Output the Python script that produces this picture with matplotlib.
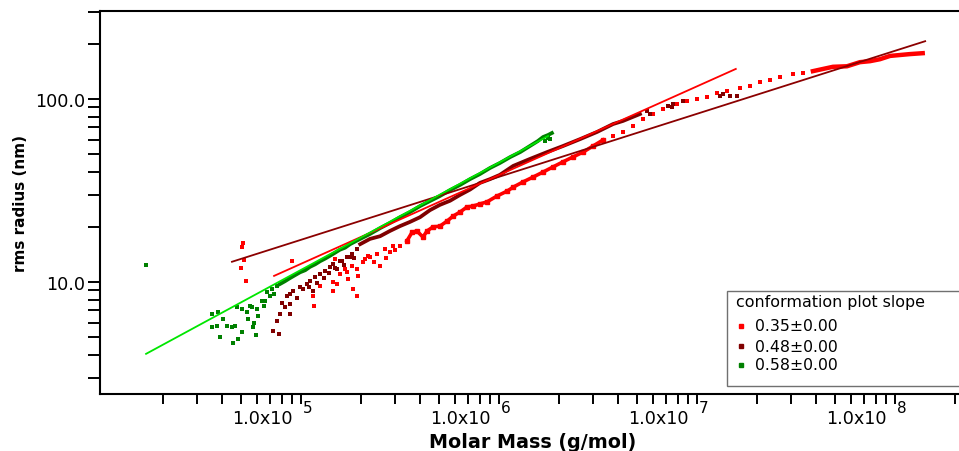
import numpy as np
import matplotlib.pyplot as plt
from matplotlib.patches import Rectangle
from matplotlib.lines import Line2D

# Datos (masa molar en g/mol, radio rms en nm)
red_scatter_mm = [5.09e4, 5.04e4, 5.15e4, 4.98e4, 5.27e4, 9.01e4, 1.16e5, 1.15e5, 1.25e5, 1.45e5,
                  1.45e5, 1.49e5, 1.52e5, 1.57e5, 1.67e5, 1.73e5, 1.71e5, 1.81e5, 1.83e5, 1.92e5,
                  1.92e5, 1.94e5, 2.06e5, 2.10e5, 2.18e5, 2.23e5, 2.35e5, 2.42e5, 2.51e5, 2.66e5,
                  2.70e5, 2.81e5, 2.91e5, 3.00e5, 3.16e5]
red_scatter_rg = [16.3, 15.5, 13.2, 11.9, 10.1, 13.0, 7.39, 8.38, 9.51, 10.0,
                  8.93, 13.4, 9.75, 11.1, 11.8, 10.4, 11.3, 12.2, 9.16, 11.8,
                  8.38, 10.8, 12.9, 13.4, 13.9, 13.7, 12.8, 14.2, 12.2, 15.1,
                  13.6, 14.6, 15.7, 14.9, 15.7]
red_curve_mm = [3.43e5, 3.64e5, 3.85e5, 4.13e5, 4.33e5, 4.64e5, 5.03e5, 5.46e5, 5.86e5, 6.35e5,
                6.89e5, 7.39e5, 8.01e5, 8.69e5, 9.77e5, 1.10e6, 1.18e6, 1.32e6, 1.49e6, 1.67e6,
                1.87e6, 2.10e6, 2.36e6, 2.66e6, 2.98e6, 3.35e6]
red_curve_rg = [16.8, 18.7, 19.0, 17.6, 19.0, 20.0, 20.2, 21.5, 22.9, 24.1,
                25.7, 26.0, 26.7, 27.4, 29.5, 31.4, 33.0, 35.2, 37.5, 39.9,
                42.5, 45.3, 48.2, 51.3, 55.3, 59.7]
red_dots_mm = [3.77e6, 4.23e6, 4.75e6, 5.33e6, 6.00e6, 6.73e6, 7.93e6, 8.90e6, 1.00e7, 1.12e7,
               1.26e7, 1.42e7, 1.65e7, 1.85e7, 2.08e7, 2.34e7, 2.62e7, 3.05e7, 3.43e7]
red_dots_rg = [62.8, 66.1, 71.1, 77.8, 82.8, 88.1, 93.9, 97.5, 100.0, 102.6,
               108, 111, 115, 118, 124, 127, 132, 137, 139]
red_tail_mm = [3.85e7, 4.33e7, 4.86e7, 5.72e7, 6.65e7, 7.48e7, 8.39e7, 9.44e7, 1.06e8, 1.19e8, 1.38e8]
red_tail_rg = [142, 146, 150, 151, 159, 161, 165, 172, 174, 176, 178]

dred_scatter_mm = [7.23e4, 7.74e4, 7.57e4, 7.83e4, 8.02e4, 8.30e4, 8.50e4, 8.79e4, 8.79e4, 8.79e4,
                   9.12e4, 9.50e4, 9.89e4, 1.02e5, 1.07e5, 1.10e5, 1.11e5, 1.15e5, 1.18e5, 1.20e5,
                   1.25e5, 1.30e5, 1.32e5, 1.38e5, 1.40e5, 1.45e5, 1.48e5, 1.52e5, 1.57e5, 1.61e5,
                   1.65e5, 1.71e5, 1.77e5, 1.81e5, 1.85e5, 1.92e5]
dred_scatter_rg = [5.40, 5.20, 6.12, 6.69, 7.67, 7.30, 8.38, 6.69, 7.58, 8.60,
                   8.93, 8.2, 9.39, 9.16, 9.75, 9.4, 10.1, 8.93, 10.6, 9.9,
                   11.1, 10.5, 11.5, 11.2, 12.1, 12.5, 11.9, 11.8, 13.0, 13.0,
                   12.4, 13.7, 13.7, 14.2, 13.6, 15.1]
dred_band_mm = [1.99e5, 2.23e5, 2.51e5, 2.81e5, 3.16e5, 3.55e5, 3.99e5, 4.48e5, 5.03e5, 5.66e5,
                6.35e5, 7.14e5, 8.01e5, 9.01e5, 1.01e6, 1.18e6, 1.43e6, 1.75e6, 2.10e6, 2.57e6,
                3.13e6, 3.77e6, 4.23e6, 5.15e6]
dred_band_rg = [16.1, 17.2, 17.8, 19.0, 20.2, 21.3, 22.6, 24.7, 26.4, 27.8,
                29.9, 32.0, 34.8, 36.5, 38.5, 43.1, 47.0, 51.3, 55.3, 60.4,
                66.1, 73.0, 75.9, 82.8]
dred_dots_mm = [5.58e6, 5.79e6, 7.14e6, 7.57e6, 7.48e6, 8.50e6, 1.31e7, 1.35e7, 1.47e7, 1.59e7]
dred_dots_rg = [86.0, 82.8, 91.6, 94.0, 90.4, 97.5, 104, 106, 104, 104]

green_scatter_mm = [1.65e4, 3.56e4, 3.81e4, 3.56e4, 3.77e4, 3.90e4, 4.04e4, 4.23e4, 4.48e4, 4.54e4,
                    4.64e4, 4.81e4, 4.76e4, 5.04e4, 5.04e4, 5.34e4, 5.40e4, 5.52e4, 5.66e4, 5.73e4,
                    5.80e4, 5.93e4, 6.00e4, 6.07e4, 6.36e4, 6.50e4, 6.58e4, 6.73e4, 6.97e4, 7.14e4,
                    7.31e4, 7.57e4, 1.71e6, 1.81e6, 1.77e6]
green_scatter_rg = [12.4, 6.69, 6.85, 5.68, 5.75, 5.00, 6.28, 5.75, 5.68, 4.64,
                    5.75, 4.88, 7.30, 5.33, 7.12, 6.85, 6.28, 7.39, 7.30, 5.68,
                    5.97, 5.13, 7.12, 6.52, 7.87, 7.39, 7.87, 8.81, 8.38, 9.16,
                    8.60, 9.51, 58.9, 60.4, 61.5]
green_band_mm = [7.83e4, 8.30e4, 8.79e4, 9.33e4, 9.89e4, 1.05e5, 1.11e5, 1.18e5, 1.25e5, 1.32e5,
                 1.40e5, 1.57e5, 1.67e5, 1.77e5, 1.99e5, 2.23e5, 2.51e5, 2.81e5, 3.16e5, 3.55e5,
                 3.99e5, 4.48e5, 5.03e5, 5.66e5, 6.35e5, 7.14e5, 8.01e5, 9.01e5, 1.01e6, 1.14e6,
                 1.28e6, 1.43e6, 1.57e6, 1.67e6, 1.77e6, 1.85e6]
green_band_rg = [9.75, 10.1, 10.5, 10.9, 11.3, 11.6, 12.1, 12.5, 13.0, 13.4,
                 13.9, 15.0, 15.4, 16.1, 17.2, 18.3, 19.7, 21.0, 22.6, 24.1,
                 26.0, 27.7, 29.5, 31.8, 33.9, 36.5, 38.9, 42.0, 44.7, 48.2,
                 51.3, 55.3, 58.9, 62.0, 63.6, 65.2]

# Rectas de ajuste (extremos)
fit035_mm = [4.48e4, 1.42e8]
fit035_rg = [12.9, 207]
fit048_mm = [7.31e4, 1.57e7]
fit048_rg = [10.8, 146]
fit058_mm = [1.65e4, 1.77e6]
fit058_rg = [4.05, 62.8]

legend_labels = ['0.35\u00b10.00', '0.48\u00b10.00', '0.58\u00b10.00']

RED = '#ff0000'
DRED = '#800000'
GREEN = '#008000'

W, H = 959, 452
fig = plt.figure(figsize=(W / 100, H / 100), dpi=100)
ax = fig.add_axes([100 / W, 1 - 395 / H, 859 / W, 383 / H])
ax.set_xscale('log')
ax.set_yscale('log')
ax.set_xlim(10 ** 3.9848, 10 ** 8.3232)
ax.set_ylim(10 ** 0.388, 10 ** 2.481)

ms = 5
# serie 0.35
ax.scatter(red_scatter_mm, red_scatter_rg, s=ms, marker='s', color=RED, linewidths=0)
ax.plot(red_curve_mm, red_curve_rg, color=RED, lw=2.6, marker='s', ms=2.5)
ax.scatter(red_dots_mm, red_dots_rg, s=ms, marker='s', color=RED, linewidths=0)
ax.plot(red_tail_mm, red_tail_rg, color=RED, lw=3.2)
# serie 0.48
ax.scatter(dred_scatter_mm, dred_scatter_rg, s=ms, marker='s', color=DRED, linewidths=0)
ax.plot(dred_band_mm, dred_band_rg, color=DRED, lw=2.7)
ax.scatter(dred_dots_mm, dred_dots_rg, s=ms, marker='s', color=DRED, linewidths=0)
# serie 0.58
ax.scatter(green_scatter_mm, green_scatter_rg, s=ms, marker='s', color=GREEN, linewidths=0)
ax.plot(green_band_mm, green_band_rg, color=GREEN, lw=2.7)

# rectas de ajuste
ax.plot(fit035_mm, fit035_rg, color='#8b0000', lw=1.3)
ax.plot(fit048_mm, fit048_rg, color='#ff0000', lw=1.3)
ax.plot(fit058_mm, fit058_rg, color='#00e600', lw=1.3)

# ejes
ax.spines['right'].set_visible(False)
for s in ['left', 'bottom', 'top']:
    ax.spines[s].set_linewidth(1.5)
ax.set_xticks([10.0 ** k for k in range(5, 9)])
ax.set_xticklabels([])
ax.xaxis.set_minor_locator(plt.matplotlib.ticker.LogLocator(base=10, subs=np.arange(2, 10)))
ax.xaxis.set_minor_formatter(plt.NullFormatter())
ax.tick_params(axis='x', which='both', direction='out', length=7.2, width=1.4)
ax.set_yticks([10, 100])
ax.set_yticklabels(['10.0', '100.0'])
ax.yaxis.set_minor_locator(plt.matplotlib.ticker.LogLocator(base=10, subs=np.arange(2, 10)))
ax.yaxis.set_minor_formatter(plt.NullFormatter())
ax.tick_params(axis='y', which='both', direction='out', length=8.6, width=1.4, pad=2, labelsize=12.7)

for k in range(5, 9):
    ax.annotate('1.0x10', xy=(10.0 ** k, 0), xycoords=('data', 'axes fraction'),
                xytext=(-5.8, -17.3), textcoords='offset points', ha='right', va='center', fontsize=12.7)
    ax.annotate(str(k), xy=(10.0 ** k, 0), xycoords=('data', 'axes fraction'),
                xytext=(1.4, -10), textcoords='offset points', ha='left', va='center', fontsize=11)

fig.text(533 / W, 1 - 443 / H, 'Molar Mass (g/mol)', ha='center', va='center', fontsize=13.8, fontweight='bold')
fig.text(21 / W, 1 - 203 / H, 'rms radius (nm)', ha='center', va='center', rotation=90,
         fontsize=11, fontweight='bold')

# leyenda
fig.add_artist(Rectangle((727 / W, 1 - 387 / H), 250 / W, 95 / H, transform=fig.transFigure,
                         facecolor='white', edgecolor='#707070', lw=1, zorder=5))
fig.text(736 / W, 1 - 303 / H, 'conformation plot slope', ha='left', va='center', fontsize=11.4, zorder=6)
for lab, col, yy in zip(legend_labels, [RED, DRED, GREEN], [327, 347, 366]):
    fig.add_artist(Line2D([741 / W], [1 - yy / H], marker='s', ms=3.5, color=col, lw=0,
                          transform=fig.transFigure, zorder=6))
    fig.text(755 / W, 1 - yy / H, lab, ha='left', va='center', fontsize=11.3, zorder=6)

plt.savefig('out.png', dpi=100)
